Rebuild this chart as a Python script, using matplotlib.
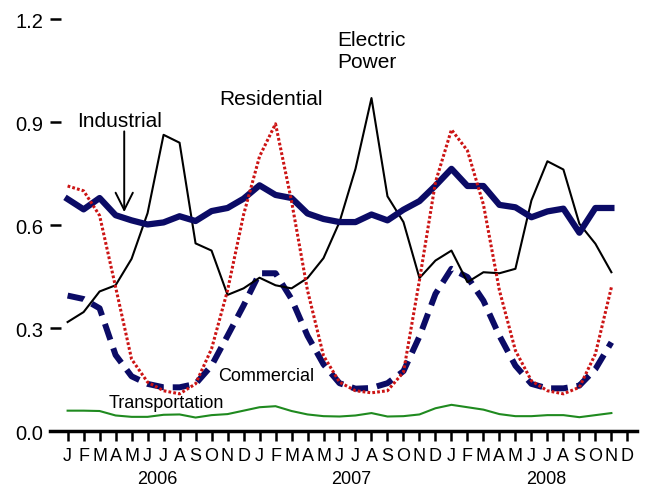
import matplotlib
matplotlib.use("Agg")
import matplotlib.pyplot as plt
import matplotlib.transforms as mtransforms

plt.rcParams['font.family'] = ['Liberation Sans', 'DejaVu Sans']

# monthly values, Jan 2006 .. Nov 2008
months = ['J', 'F', 'M', 'A', 'M', 'J', 'J', 'A', 'S', 'O', 'N', 'D'] * 3
years = ['2006', '2007', '2008']
year_pos = [5.6, 17.75, 29.9]

electric = [0.318, 0.347, 0.407, 0.425, 0.502, 0.635, 0.863, 0.840, 0.547, 0.526, 0.397, 0.416,
            0.447, 0.425, 0.416, 0.446, 0.504, 0.609, 0.764, 0.970, 0.684, 0.609, 0.446, 0.497,
            0.526, 0.434, 0.463, 0.460, 0.473, 0.672, 0.786, 0.762, 0.604, 0.546, 0.463]
industrial = [0.676, 0.646, 0.679, 0.629, 0.614, 0.602, 0.608, 0.626, 0.612, 0.641, 0.650, 0.677,
              0.716, 0.688, 0.679, 0.634, 0.618, 0.609, 0.609, 0.631, 0.614, 0.645, 0.670, 0.715,
              0.764, 0.714, 0.714, 0.659, 0.652, 0.623, 0.640, 0.648, 0.578, 0.650, 0.650]
residential = [0.714, 0.700, 0.628, 0.420, 0.210, 0.143, 0.118, 0.109, 0.138, 0.240, 0.410, 0.630,
               0.800, 0.895, 0.670, 0.410, 0.220, 0.143, 0.118, 0.112, 0.118, 0.172, 0.440, 0.725,
               0.878, 0.817, 0.660, 0.410, 0.235, 0.147, 0.118, 0.109, 0.128, 0.225, 0.419]
commercial = [0.395, 0.385, 0.358, 0.222, 0.160, 0.138, 0.128, 0.128, 0.138, 0.191, 0.278, 0.366,
              0.460, 0.460, 0.385, 0.278, 0.195, 0.140, 0.124, 0.126, 0.140, 0.175, 0.276, 0.400,
              0.473, 0.449, 0.380, 0.278, 0.191, 0.138, 0.125, 0.125, 0.133, 0.181, 0.259]
transportation = [0.060, 0.060, 0.059, 0.046, 0.042, 0.042, 0.048, 0.049, 0.040, 0.047, 0.050, 0.060,
                  0.070, 0.073, 0.059, 0.049, 0.044, 0.043, 0.046, 0.053, 0.043, 0.044, 0.049, 0.067,
                  0.077, 0.070, 0.063, 0.050, 0.044, 0.044, 0.047, 0.047, 0.041, 0.047, 0.053]

navy = '#0b0b66'

fig = plt.figure(figsize=(6.47, 4.89), dpi=100)
ax = fig.add_axes([0.0773, 0.116, 0.9072, 0.843])

x = list(range(len(electric)))
ax.plot(x, transportation, color='#1f8a1f', lw=1.5)
ax.plot(x, commercial, color=navy, lw=4.3, dashes=(2.8, 1.5), solid_capstyle='butt')
ax.plot(x, electric, color='black', lw=1.5)
ax.plot(x, industrial, color=navy, lw=4.5, solid_joinstyle='round')
ax.plot(x, residential, color='#cc1414', lw=2.2, dashes=(0.9, 0.7))

ax.set_xlim(-1.1, 35.6)
ax.set_ylim(0, 1.2)
for s in ['left', 'top', 'right']:
    ax.spines[s].set_visible(False)
ax.spines['bottom'].set_linewidth(2.5)

ax.set_yticks([0, 0.3, 0.6, 0.9, 1.2])
ax.set_yticklabels(['0.0', '0.3', '0.6', '0.9', '1.2'])
ax.tick_params(axis='y', direction='in', length=8, width=1.8, pad=5, labelsize=14.5)
ax.set_xticks(range(36))
ax.set_xticklabels(months)
ax.tick_params(axis='x', direction='out', length=7.5, width=1.8, pad=4, labelsize=13)

trans = mtransforms.blended_transform_factory(ax.transData, ax.transAxes)
for yr, xp in zip(years, year_pos):
    ax.text(xp, -0.114, yr, transform=trans, ha='center', va='center', fontsize=13)

# labels
ax.text(3.27, 0.904, 'Industrial', ha='center', va='center', fontsize=15)
ax.annotate('', xy=(3.54, 0.638), xytext=(3.54, 0.873),
            arrowprops=dict(arrowstyle='->,head_length=0.62,head_width=0.31',
                            mutation_scale=20, lw=1.4, color='black',
                            shrinkA=0, shrinkB=0))
ax.text(12.7, 0.968, 'Residential', ha='center', va='center', fontsize=15)
ax.text(16.83, 1.109, 'Electric\nPower', ha='left', va='center', fontsize=15)
ax.text(12.4, 0.162, 'Commercial', ha='center', va='center', fontsize=13)
ax.text(6.17, 0.085, 'Transportation', ha='center', va='center', fontsize=13)

fig.savefig('out.png', dpi=100)
